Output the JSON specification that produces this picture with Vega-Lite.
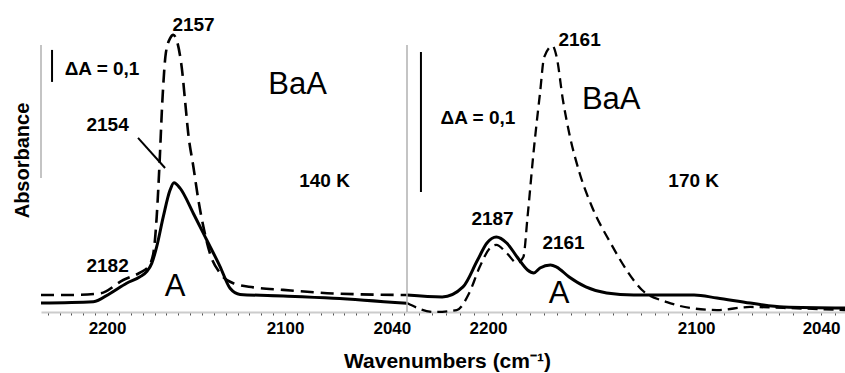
{
  "$schema": "https://vega.github.io/schema/vega-lite/v6.json",
  "padding": {"left": 12, "top": 8, "right": 0, "bottom": 0},
  "background": "white",
  "bounds": "flush",
  "spacing": 0,
  "config": {"view": {"stroke": null}, "font": "Liberation Sans"},
  "title": {"text": "Wavenumbers (cm⁻¹)", "orient": "bottom", "anchor": "middle", "font": "Liberation Sans", "fontSize": 21, "fontWeight": "bold", "color": "black", "dx": 16, "offset": 15},
  "datasets": {
    "curves": [
      {"panel": "140 K", "series": "A", "wn": 2237.1, "a": 0.028},
      {"panel": "140 K", "series": "A", "wn": 2207.7, "a": 0.032},
      {"panel": "140 K", "series": "A", "wn": 2198.3, "a": 0.058},
      {"panel": "140 K", "series": "A", "wn": 2189.0, "a": 0.090},
      {"panel": "140 K", "series": "A", "wn": 2181.5, "a": 0.110},
      {"panel": "140 K", "series": "A", "wn": 2177.7, "a": 0.126},
      {"panel": "140 K", "series": "A", "wn": 2174.9, "a": 0.152},
      {"panel": "140 K", "series": "A", "wn": 2172.1, "a": 0.204},
      {"panel": "140 K", "series": "A", "wn": 2168.4, "a": 0.298},
      {"panel": "140 K", "series": "A", "wn": 2164.6, "a": 0.381},
      {"panel": "140 K", "series": "A", "wn": 2162.4, "a": 0.404},
      {"panel": "140 K", "series": "A", "wn": 2159.0, "a": 0.387},
      {"panel": "140 K", "series": "A", "wn": 2151.5, "a": 0.308},
      {"panel": "140 K", "series": "A", "wn": 2144.0, "a": 0.225},
      {"panel": "140 K", "series": "A", "wn": 2136.5, "a": 0.142},
      {"panel": "140 K", "series": "A", "wn": 2130.9, "a": 0.074},
      {"panel": "140 K", "series": "A", "wn": 2125.3, "a": 0.055},
      {"panel": "140 K", "series": "A", "wn": 2101.0, "a": 0.050},
      {"panel": "140 K", "series": "A", "wn": 2072.9, "a": 0.043},
      {"panel": "140 K", "series": "A", "wn": 2031.5, "a": 0.027},

      {"panel": "140 K", "series": "BaA", "wn": 2237.1, "a": 0.053},
      {"panel": "140 K", "series": "BaA", "wn": 2222.7, "a": 0.053},
      {"panel": "140 K", "series": "BaA", "wn": 2204.0, "a": 0.058},
      {"panel": "140 K", "series": "BaA", "wn": 2190.9, "a": 0.100},
      {"panel": "140 K", "series": "BaA", "wn": 2181.5, "a": 0.123},
      {"panel": "140 K", "series": "BaA", "wn": 2176.8, "a": 0.142},
      {"panel": "140 K", "series": "BaA", "wn": 2174.0, "a": 0.183},
      {"panel": "140 K", "series": "BaA", "wn": 2172.1, "a": 0.298},
      {"panel": "140 K", "series": "BaA", "wn": 2170.6, "a": 0.454},
      {"panel": "140 K", "series": "BaA", "wn": 2168.9, "a": 0.662},
      {"panel": "140 K", "series": "BaA", "wn": 2167.0, "a": 0.808},
      {"panel": "140 K", "series": "BaA", "wn": 2164.6, "a": 0.855},
      {"panel": "140 K", "series": "BaA", "wn": 2162.8, "a": 0.866},
      {"panel": "140 K", "series": "BaA", "wn": 2158.1, "a": 0.767},
      {"panel": "140 K", "series": "BaA", "wn": 2156.2, "a": 0.662},
      {"panel": "140 K", "series": "BaA", "wn": 2154.4, "a": 0.558},
      {"panel": "140 K", "series": "BaA", "wn": 2151.5, "a": 0.454},
      {"panel": "140 K", "series": "BaA", "wn": 2148.7, "a": 0.350},
      {"panel": "140 K", "series": "BaA", "wn": 2145.9, "a": 0.267},
      {"panel": "140 K", "series": "BaA", "wn": 2142.2, "a": 0.183},
      {"panel": "140 K", "series": "BaA", "wn": 2136.5, "a": 0.121},
      {"panel": "140 K", "series": "BaA", "wn": 2129.1, "a": 0.090},
      {"panel": "140 K", "series": "BaA", "wn": 2117.8, "a": 0.077},
      {"panel": "140 K", "series": "BaA", "wn": 2101.0, "a": 0.069},
      {"panel": "140 K", "series": "BaA", "wn": 2072.9, "a": 0.058},
      {"panel": "140 K", "series": "BaA", "wn": 2031.5, "a": 0.053},

      {"panel": "170 K", "series": "A", "wn": 2238.9, "a": 0.0121},
      {"panel": "170 K", "series": "A", "wn": 2222.0, "a": 0.0107},
      {"panel": "170 K", "series": "A", "wn": 2212.0, "a": 0.0179},
      {"panel": "170 K", "series": "A", "wn": 2205.0, "a": 0.0371},
      {"panel": "170 K", "series": "A", "wn": 2200.5, "a": 0.0493},
      {"panel": "170 K", "series": "A", "wn": 2196.0, "a": 0.0536},
      {"panel": "170 K", "series": "A", "wn": 2191.0, "a": 0.0493},
      {"panel": "170 K", "series": "A", "wn": 2186.0, "a": 0.0393},
      {"panel": "170 K", "series": "A", "wn": 2181.0, "a": 0.0300},
      {"panel": "170 K", "series": "A", "wn": 2178.0, "a": 0.0279},
      {"panel": "170 K", "series": "A", "wn": 2175.0, "a": 0.0314},
      {"panel": "170 K", "series": "A", "wn": 2170.0, "a": 0.0336},
      {"panel": "170 K", "series": "A", "wn": 2167.0, "a": 0.0321},
      {"panel": "170 K", "series": "A", "wn": 2161.0, "a": 0.0250},
      {"panel": "170 K", "series": "A", "wn": 2153.0, "a": 0.0179},
      {"panel": "170 K", "series": "A", "wn": 2143.0, "a": 0.0136},
      {"panel": "170 K", "series": "A", "wn": 2130.0, "a": 0.0121},
      {"panel": "170 K", "series": "A", "wn": 2114.0, "a": 0.0121},
      {"panel": "170 K", "series": "A", "wn": 2101.0, "a": 0.0121},
      {"panel": "170 K", "series": "A", "wn": 2090.0, "a": 0.0100},
      {"panel": "170 K", "series": "A", "wn": 2074.0, "a": 0.0064},
      {"panel": "170 K", "series": "A", "wn": 2058.0, "a": 0.0036},
      {"panel": "170 K", "series": "A", "wn": 2028.5, "a": 0.0029},

      {"panel": "170 K", "series": "BaA", "wn": 2238.9, "a": 0.0064},
      {"panel": "170 K", "series": "BaA", "wn": 2226.0, "a": 0.0000},
      {"panel": "170 K", "series": "BaA", "wn": 2215.0, "a": 0.0014},
      {"panel": "170 K", "series": "BaA", "wn": 2209.0, "a": 0.0136},
      {"panel": "170 K", "series": "BaA", "wn": 2204.0, "a": 0.0321},
      {"panel": "170 K", "series": "BaA", "wn": 2199.0, "a": 0.0457},
      {"panel": "170 K", "series": "BaA", "wn": 2196.0, "a": 0.0479},
      {"panel": "170 K", "series": "BaA", "wn": 2191.0, "a": 0.0421},
      {"panel": "170 K", "series": "BaA", "wn": 2186.0, "a": 0.0350},
      {"panel": "170 K", "series": "BaA", "wn": 2183.0, "a": 0.0393},
      {"panel": "170 K", "series": "BaA", "wn": 2181.0, "a": 0.0679},
      {"panel": "170 K", "series": "BaA", "wn": 2178.0, "a": 0.1157},
      {"panel": "170 K", "series": "BaA", "wn": 2175.0, "a": 0.1564},
      {"panel": "170 K", "series": "BaA", "wn": 2173.0, "a": 0.1821},
      {"panel": "170 K", "series": "BaA", "wn": 2169.0, "a": 0.1900},
      {"panel": "170 K", "series": "BaA", "wn": 2167.0, "a": 0.1821},
      {"panel": "170 K", "series": "BaA", "wn": 2164.0, "a": 0.1514},
      {"panel": "170 K", "series": "BaA", "wn": 2161.0, "a": 0.1279},
      {"panel": "170 K", "series": "BaA", "wn": 2156.0, "a": 0.0993},
      {"panel": "170 K", "series": "BaA", "wn": 2150.0, "a": 0.0750},
      {"panel": "170 K", "series": "BaA", "wn": 2141.0, "a": 0.0490},
      {"panel": "170 K", "series": "BaA", "wn": 2133.0, "a": 0.0290},
      {"panel": "170 K", "series": "BaA", "wn": 2126.0, "a": 0.0157},
      {"panel": "170 K", "series": "BaA", "wn": 2114.0, "a": 0.0071},
      {"panel": "170 K", "series": "BaA", "wn": 2103.0, "a": 0.0029},
      {"panel": "170 K", "series": "BaA", "wn": 2090.0, "a": 0.0014},
      {"panel": "170 K", "series": "BaA", "wn": 2074.0, "a": 0.0036},
      {"panel": "170 K", "series": "BaA", "wn": 2058.0, "a": 0.0029},
      {"panel": "170 K", "series": "BaA", "wn": 2028.5, "a": 0.0014}
    ],
    "labels": [
      {"panel": "140 K", "role": "peak", "text": "2157", "wn": 2151.4, "a": 0.898},
      {"panel": "140 K", "role": "peak", "text": "ΔA = 0,1", "wn": 2202.8, "a": 0.758},
      {"panel": "140 K", "role": "name", "text": "BaA", "wn": 2093.0, "a": 0.709},
      {"panel": "140 K", "role": "peak", "text": "2154", "wn": 2199.7, "a": 0.584},
      {"panel": "140 K", "role": "peak", "text": "140 K", "wn": 2077.8, "a": 0.408},
      {"panel": "140 K", "role": "peak", "text": "2182", "wn": 2199.7, "a": 0.145},
      {"panel": "140 K", "role": "name", "text": "A", "wn": 2161.8, "a": 0.077},
      {"panel": "170 K", "role": "peak", "text": "2161", "wn": 2156.0, "a": 0.1946},
      {"panel": "170 K", "role": "name", "text": "BaA", "wn": 2140.8, "a": 0.1514},
      {"panel": "170 K", "role": "peak", "text": "ΔA = 0,1", "wn": 2204.8, "a": 0.1389},
      {"panel": "170 K", "role": "peak", "text": "170 K", "wn": 2101.2, "a": 0.0939},
      {"panel": "170 K", "role": "peak", "text": "2187", "wn": 2197.8, "a": 0.0661},
      {"panel": "170 K", "role": "peak", "text": "2161", "wn": 2163.7, "a": 0.0496},
      {"panel": "170 K", "role": "name", "text": "A", "wn": 2165.8, "a": 0.0129}
    ],
    "rules": [
      {"panel": "140 K", "role": "scale", "wn": 2230.9, "wn2": 2230.9, "a": 0.719, "a2": 0.819},
      {"panel": "140 K", "role": "pointer", "wn": 2182.6, "wn2": 2167.4, "a": 0.544, "a2": 0.45},
      {"panel": "140 K", "role": "frame", "wn": 2237.1, "wn2": 2237.1, "a": 0.419, "a2": 0.834},
      {"panel": "170 K", "role": "scale", "wn": 2232.2, "wn2": 2232.2, "a": 0.0857, "a2": 0.1857},
      {"panel": "170 K", "role": "frame", "wn": 2238.9, "wn2": 2238.9, "a": 0.0, "a2": 0.1907}
    ]
  },
  "hconcat": [
    {
      "width": 366,
      "height": 304,
      "encoding": {
        "x": {"field": "wn", "type": "quantitative",
              "scale": {"domain": [2031.5, 2237.1], "reverse": true, "nice": false, "zero": false},
              "axis": {"title": null, "grid": false,
                       "values": [2233.33, 2226.67, 2220, 2213.33, 2206.67, 2200, 2193.33, 2186.67, 2180, 2173.33, 2166.67, 2160, 2153.33, 2146.67, 2140, 2133.33, 2126.67, 2120, 2113.33, 2106.67, 2100, 2093.33, 2086.67, 2080, 2073.33, 2066.67, 2060, 2053.33, 2046.67, 2040, 2033.33],
                       "labelExpr": "(datum.value == 2200 || datum.value == 2100 || datum.value == 2040) ? format(datum.value, 'd') : ''",
                       "labelOverlap": false, "labelFlush": false, "labelFont": "Liberation Sans", "labelFontSize": 17, "labelFontWeight": "bold", "labelColor": "black", "labelPadding": 5,
                       "domainColor": "#cccccc", "domainWidth": 2, "tickColor": "#555555", "tickSize": 3, "tickWidth": 1}},
        "y": {"field": "a", "type": "quantitative",
              "scale": {"domain": [0, 0.95], "nice": false, "zero": false},
              "axis": {"title": "Absorbance", "titleFont": "Liberation Sans", "titleFontSize": 20, "titleFontWeight": "bold", "titleColor": "black", "titlePadding": 9,
                       "labels": false, "ticks": false, "domain": false, "grid": false}}
      },
      "layer": [
        {"data": {"name": "curves"}, "transform": [{"filter": "datum.panel == '140 K' && datum.series == 'A'"}],
         "mark": {"type": "line", "color": "black", "strokeWidth": 3, "interpolate": "monotone"}},
        {"data": {"name": "curves"}, "transform": [{"filter": "datum.panel == '140 K' && datum.series == 'BaA'"}],
         "mark": {"type": "line", "color": "black", "strokeWidth": 2.6, "strokeDash": [13, 7], "interpolate": "monotone"}},
        {"data": {"name": "rules"}, "transform": [{"filter": "datum.panel == '140 K' && datum.role != 'frame'"}],
         "mark": {"type": "rule", "color": "black", "strokeWidth": 2},
         "encoding": {"x2": {"field": "wn2"}, "y2": {"field": "a2"}}},
        {"data": {"name": "rules"}, "transform": [{"filter": "datum.panel == '140 K' && datum.role == 'frame'"}],
         "mark": {"type": "rule", "color": "#b0b0b0", "strokeWidth": 1.5},
         "encoding": {"x2": {"field": "wn2"}, "y2": {"field": "a2"}}},
        {"data": {"name": "labels"}, "transform": [{"filter": "datum.panel == '140 K' && datum.role == 'peak'"}],
         "mark": {"type": "text", "font": "Liberation Sans", "fontSize": 19, "fontWeight": "bold", "color": "black", "align": "center", "baseline": "middle"},
         "encoding": {"text": {"field": "text"}}},
        {"data": {"name": "labels"}, "transform": [{"filter": "datum.panel == '140 K' && datum.role == 'name'"}],
         "mark": {"type": "text", "font": "Liberation Sans", "fontSize": 31, "color": "black", "align": "center", "baseline": "middle"},
         "encoding": {"text": {"field": "text"}}}
      ]
    },
    {
      "width": 438,
      "height": 304,
      "encoding": {
        "x": {"field": "wn", "type": "quantitative",
              "scale": {"domain": [2028.5, 2238.9], "reverse": true, "nice": false, "zero": false},
              "axis": {"title": null, "grid": false,
                       "values": [2233.33, 2226.67, 2220, 2213.33, 2206.67, 2200, 2193.33, 2186.67, 2180, 2173.33, 2166.67, 2160, 2153.33, 2146.67, 2140, 2133.33, 2126.67, 2120, 2113.33, 2106.67, 2100, 2093.33, 2086.67, 2080, 2073.33, 2066.67, 2060, 2053.33, 2046.67, 2040, 2033.33],
                       "labelExpr": "(datum.value == 2200 || datum.value == 2100 || datum.value == 2040) ? format(datum.value, 'd') : ''",
                       "labelOverlap": false, "labelFlush": false, "labelFont": "Liberation Sans", "labelFontSize": 17, "labelFontWeight": "bold", "labelColor": "black", "labelPadding": 5,
                       "domainColor": "#cccccc", "domainWidth": 2, "tickColor": "#555555", "tickSize": 3, "tickWidth": 1}},
        "y": {"field": "a", "type": "quantitative",
              "scale": {"domain": [0, 0.21714], "nice": false, "zero": false},
              "axis": null}
      },
      "layer": [
        {"data": {"name": "curves"}, "transform": [{"filter": "datum.panel == '170 K' && datum.series == 'A'"}],
         "mark": {"type": "line", "color": "black", "strokeWidth": 3, "interpolate": "monotone"}},
        {"data": {"name": "curves"}, "transform": [{"filter": "datum.panel == '170 K' && datum.series == 'BaA'"}],
         "mark": {"type": "line", "color": "black", "strokeWidth": 2.3, "strokeDash": [10, 6], "interpolate": "monotone"}},
        {"data": {"name": "rules"}, "transform": [{"filter": "datum.panel == '170 K' && datum.role != 'frame'"}],
         "mark": {"type": "rule", "color": "black", "strokeWidth": 2},
         "encoding": {"x2": {"field": "wn2"}, "y2": {"field": "a2"}}},
        {"data": {"name": "rules"}, "transform": [{"filter": "datum.panel == '170 K' && datum.role == 'frame'"}],
         "mark": {"type": "rule", "color": "#b0b0b0", "strokeWidth": 1.5},
         "encoding": {"x2": {"field": "wn2"}, "y2": {"field": "a2"}}},
        {"data": {"name": "labels"}, "transform": [{"filter": "datum.panel == '170 K' && datum.role == 'peak'"}],
         "mark": {"type": "text", "font": "Liberation Sans", "fontSize": 19, "fontWeight": "bold", "color": "black", "align": "center", "baseline": "middle"},
         "encoding": {"text": {"field": "text"}}},
        {"data": {"name": "labels"}, "transform": [{"filter": "datum.panel == '170 K' && datum.role == 'name'"}],
         "mark": {"type": "text", "font": "Liberation Sans", "fontSize": 31, "color": "black", "align": "center", "baseline": "middle"},
         "encoding": {"text": {"field": "text"}}}
      ]
    }
  ]
}
